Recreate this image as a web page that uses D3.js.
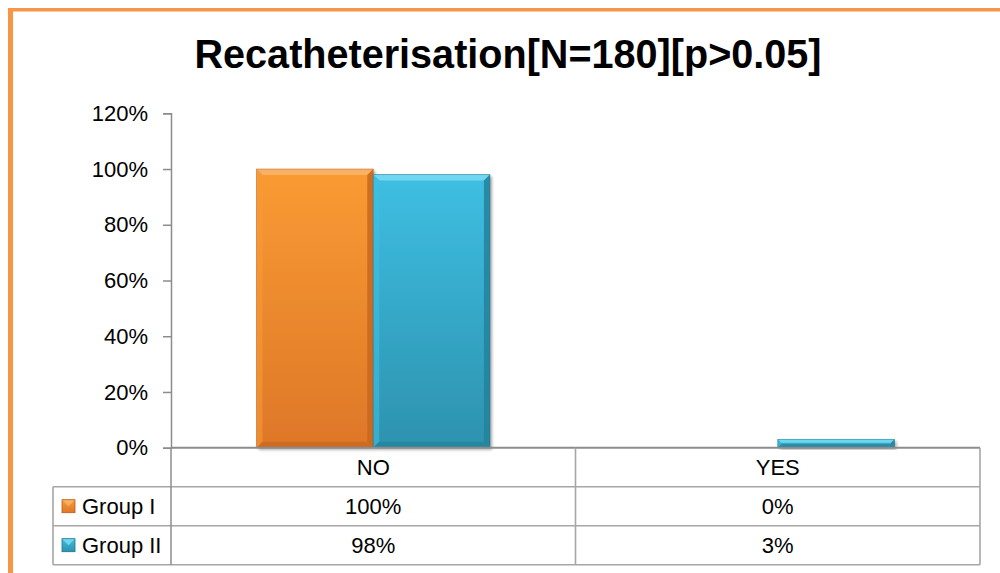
<!DOCTYPE html>
<html>
<head>
<meta charset="utf-8">
<script src="https://cdn.jsdelivr.net/npm/d3@7"></script>
<style>
  html, body { margin: 0; padding: 0; background: #fff; }
  svg { display: block; }
  text { font-family: "Liberation Sans", Arial, sans-serif; fill: #000; }
</style>
</head>
<body>
<svg id="chart" width="1000" height="573"></svg>
<script>
// Recatheterisation by group (percent of patients)
const titleText = "Recatheterisation[N=180][p>0.05]";
const categories = ["NO", "YES"];
const seriesNames = ["Group I", "Group II"];
const groupI = [100, 0];
const groupII = [98, 3];
const yTicks = [0, 20, 40, 60, 80, 100, 120];

const seriesValues = [groupI, groupII];
const palette = [
  { top: "#F99B33", bottom: "#DE7728", light: "#FBB468", dark: "#C9661C", edge: "#B85E1E" },
  { top: "#3EBFE3", bottom: "#2D92AE", light: "#77D9F2", dark: "#23829C", edge: "#1F7389" }
];
const labelSize = 22;

const svg = d3.select("#chart");
const defs = svg.append("defs");

// frame of the chart area
svg.append("rect").attr("x", 8).attr("y", 8).attr("width", 992).attr("height", 3.5).attr("fill", "#F79646");
svg.append("rect").attr("x", 8).attr("y", 8).attr("width", 5).attr("height", 565).attr("fill", "#F79646");

// title
svg.append("text")
  .attr("x", 508).attr("y", 68)
  .attr("text-anchor", "middle")
  .attr("font-size", 40).attr("font-weight", "bold")
  .attr("textLength", 627).attr("lengthAdjust", "spacingAndGlyphs")
  .text(titleText);

// plot geometry
const plot = { left: 171, right: 980, top: 113.3, bottom: 447.7 };
const table = { left: 53, rowH: 39 };

const x0 = d3.scaleBand().domain(categories).range([plot.left, plot.right]).padding(0);
const x1 = d3.scaleBand().domain(seriesNames).range([0, x0.bandwidth()]).paddingInner(0).paddingOuter(0.733);
const y = d3.scaleLinear().domain([0, 120]).range([plot.bottom, plot.top]);

// y axis
const yAxis = d3.axisLeft(y).tickValues(yTicks).tickFormat(d => d + "%").tickSize(8).tickPadding(15);
const gy = svg.append("g").attr("transform", `translate(${plot.left},0)`).call(yAxis);
gy.select(".domain").attr("stroke", "#8c8c8c").attr("stroke-width", 1.5);
gy.selectAll(".tick line").attr("stroke", "#8c8c8c").attr("stroke-width", 1.5);
gy.selectAll(".tick text").attr("font-size", labelSize).attr("fill", "#000")
  .attr("font-family", "\"Liberation Sans\", Arial, sans-serif");

// gradients for the bevelled bars
palette.forEach((p, i) => {
  const g = defs.append("linearGradient").attr("id", "grad" + i).attr("x1", 0).attr("y1", 0).attr("x2", 0).attr("y2", 1);
  g.append("stop").attr("offset", "0%").attr("stop-color", p.top);
  g.append("stop").attr("offset", "100%").attr("stop-color", p.bottom);
});
const shadow = defs.append("filter").attr("id", "shadow").attr("x", "-10%").attr("y", "-10%").attr("width", "130%").attr("height", "130%");
shadow.append("feGaussianBlur").attr("in", "SourceAlpha").attr("stdDeviation", 1.5);
shadow.append("feOffset").attr("dx", 2).attr("dy", 2).attr("result", "off");
shadow.append("feComponentTransfer").append("feFuncA").attr("type", "linear").attr("slope", 0.35);
const merge = shadow.append("feMerge");
merge.append("feMergeNode");
merge.append("feMergeNode").attr("in", "SourceGraphic");

// bars
const barData = [];
categories.forEach((c, ci) => {
  seriesNames.forEach((s, si) => {
    barData.push({ cat: c, series: s, si, value: seriesValues[si][ci] });
  });
});

const bars = svg.append("g").selectAll("g.bar")
  .data(barData.filter(d => d.value > 0))
  .join("g").attr("class", "bar");

bars.each(function(d) {
  const g = d3.select(this);
  const p = palette[d.si];
  const bx = x0(d.cat) + x1(d.series);
  const bw = x1.bandwidth();
  const by = y(d.value);
  const bh = y(0) - by;
  const b = Math.min(6, bh / 2.5);
  g.append("rect").attr("x", bx).attr("y", by).attr("width", bw).attr("height", bh)
    .attr("fill", `url(#grad${d.si})`).attr("filter", "url(#shadow)");
  // bevel facets
  const poly = pts => pts.map(q => q.join(",")).join(" ");
  g.append("polygon").attr("points", poly([[bx, by], [bx + bw, by], [bx + bw - b, by + b], [bx + b, by + b]]))
    .attr("fill", p.light).attr("opacity", 0.9);
  g.append("polygon").attr("points", poly([[bx, by], [bx + b, by + b], [bx + b, by + bh - b], [bx, by + bh]]))
    .attr("fill", p.top).attr("opacity", 0.6);
  g.append("polygon").attr("points", poly([[bx + bw, by], [bx + bw, by + bh], [bx + bw - b, by + bh - b], [bx + bw - b, by + b]]))
    .attr("fill", p.dark).attr("opacity", 0.85);
  g.append("polygon").attr("points", poly([[bx, by + bh], [bx + b, by + bh - b], [bx + bw - b, by + bh - b], [bx + bw, by + bh]]))
    .attr("fill", p.dark).attr("opacity", 0.7);
  g.append("rect").attr("x", bx).attr("y", by).attr("width", bw).attr("height", bh)
    .attr("fill", "none").attr("stroke", p.edge).attr("stroke-width", 0.8).attr("stroke-opacity", 0.6);
});

// data table below the axis
const rowsTop = plot.bottom;
const tbl = svg.append("g");
const lineColor = "#a6a6a6";
const nRows = 1 + seriesNames.length;
const textDy = 8;
// horizontal rules
for (let r = 0; r <= nRows; r++) {
  const yy = rowsTop + r * table.rowH;
  tbl.append("line")
    .attr("x1", r === 0 ? plot.left : table.left).attr("x2", plot.right)
    .attr("y1", yy).attr("y2", yy)
    .attr("stroke", r === 0 ? "#8c8c8c" : lineColor).attr("stroke-width", r === 0 ? 2 : 1.6);
}
// vertical rules
const colEdges = [plot.left].concat(categories.map(c => x0(c) + x0.bandwidth()));
colEdges.forEach((xx, i) => {
  tbl.append("line").attr("x1", xx).attr("x2", xx)
    .attr("y1", rowsTop).attr("y2", rowsTop + nRows * table.rowH)
    .attr("stroke", i === 0 ? "#8c8c8c" : lineColor).attr("stroke-width", i === 0 ? 1.5 : 1.6);
});
tbl.append("line").attr("x1", table.left).attr("x2", table.left)
  .attr("y1", rowsTop + table.rowH).attr("y2", rowsTop + nRows * table.rowH)
  .attr("stroke", lineColor).attr("stroke-width", 1.6);

// header row: category names
categories.forEach(c => {
  tbl.append("text").attr("x", x0(c) + x0.bandwidth() / 2).attr("y", rowsTop + table.rowH / 2 + textDy)
    .attr("text-anchor", "middle").attr("font-size", labelSize).text(c);
});

// series rows: legend key + values
seriesNames.forEach((s, si) => {
  const rowMid = rowsTop + (si + 1) * table.rowH + table.rowH / 2;
  const p = palette[si];
  const k = 13, kx = 62, ky = rowMid - k / 2;
  tbl.append("rect").attr("x", kx).attr("y", ky).attr("width", k).attr("height", k).attr("fill", `url(#grad${si})`);
  tbl.append("polygon").attr("points", `${kx},${ky} ${kx + k},${ky} ${kx + k / 2},${ky + k / 2}`)
    .attr("fill", p.light).attr("opacity", 0.9);
  tbl.append("rect").attr("x", kx).attr("y", ky).attr("width", k).attr("height", k)
    .attr("fill", "none").attr("stroke", p.edge).attr("stroke-width", 0.8);
  tbl.append("text").attr("x", 82).attr("y", rowMid + textDy).attr("font-size", labelSize).text(s);
  categories.forEach((c, ci) => {
    tbl.append("text").attr("x", x0(c) + x0.bandwidth() / 2).attr("y", rowMid + textDy)
      .attr("text-anchor", "middle").attr("font-size", labelSize).text(seriesValues[si][ci] + "%");
  });
});
</script>
</body>
</html>
